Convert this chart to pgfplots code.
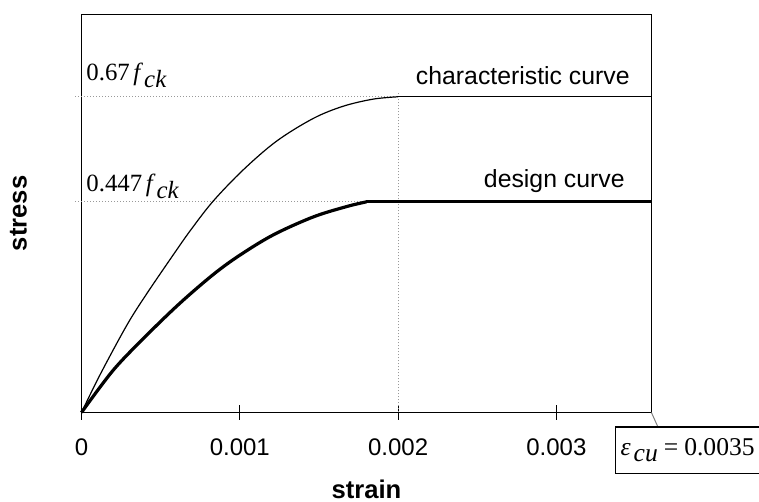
\documentclass[border=0pt]{standalone}
\usepackage{fontspec}
\setmainfont{Liberation Sans}
\newfontfamily\timesf{Liberation Serif}
\usepackage{pgfplots}
\pgfplotsset{compat=1.18}
\begin{document}
\begin{tikzpicture}
\begin{axis}[name=ax, at={(0,0)}, anchor=south west,
  scale only axis, width=284.95pt, height=199.1pt,
  xmin=0, xmax=0.0036, ymin=0, ymax=0.845,
  xtick={0,0.001,0.002,0.003}, xticklabels={0,0.001,0.002,0.003},
  scaled x ticks=false, ytick=\empty, xtick pos=bottom,
  tick align=center, major tick length=7.5pt,
  axis line style={line width=0.6pt},
  tick style={black, line width=0.6pt},
  xticklabel style={font=\fontsize{12}{14}\selectfont, anchor=north, inner sep=0pt, yshift=-9pt},
  xlabel={strain}, ylabel={stress},
  xlabel style={at={(axis description cs:0.5,-0.2172)}, anchor=base, inner sep=0pt, font=\fontsize{12.8}{15}\selectfont\bfseries},
  ylabel style={at={(axis description cs:-0.0962,0.5)}, anchor=base, inner sep=0pt, font=\fontsize{12.8}{15}\selectfont\bfseries},
  clip=false]
% reference dotted lines
\addplot[gray!80, densely dotted, line width=0.5pt] coordinates {(-0.00004,0.67) (0.002,0.67)};
\addplot[gray!80, densely dotted, line width=0.5pt] coordinates {(-0.00004,0.447) (0.002,0.447)};
\addplot[gray!80, densely dotted, line width=0.5pt] coordinates {(0.002,0) (0.002,0.68)};
% characteristic curve
\addplot[black, line width=0.6pt, smooth, tension=0.55] coordinates {
(0,0) (0.000117,0.080) (0.000286,0.185) (0.000412,0.252) (0.000601,0.345)
(0.000696,0.390) (0.000833,0.449) (0.001022,0.515) (0.001233,0.576)
(0.001464,0.624) (0.001654,0.650) (0.001843,0.665) (0.002,0.67)};
\addplot[black, line width=0.6pt] coordinates {(0.002,0.67) (0.0036,0.67)};
% design curve
\addplot[black, line width=1.6pt, smooth, tension=0.55] coordinates {
(0,0) (0.000201,0.090) (0.000412,0.164) (0.000622,0.232) (0.000833,0.293)
(0.001001,0.334) (0.001212,0.377) (0.001464,0.415) (0.001675,0.437)
(0.0018,0.447)};
\addplot[black, line width=1.6pt] coordinates {(0.0018,0.447) (0.0036,0.447)};
\node[anchor=base west, inner sep=0pt, font=\timesf\fontsize{12.4}{14}\selectfont, xshift=2.3pt, yshift=8.35pt] at (axis cs:0,0.67) {0.67\kern1.8pt\textit{f}\kern0.5pt\raisebox{-3.6pt}{\textit{ck}}};
\node[anchor=base west, inner sep=0pt, font=\timesf\fontsize{12.4}{14}\selectfont, xshift=2.3pt, yshift=5.3pt] at (axis cs:0,0.447) {0.447\kern1.8pt\textit{f}\kern0.5pt\raisebox{-3.6pt}{\textit{ck}}};
\node[anchor=base east, inner sep=0pt, font=\fontsize{12.4}{14}\selectfont, xshift=-10.7pt, yshift=6.3pt] at (axis cs:0.0036,0.67) {characteristic curve};
\node[anchor=base east, inner sep=0pt, font=\fontsize{12.4}{14}\selectfont, xshift=-13.2pt, yshift=7pt] at (axis cs:0.0036,0.447) {design curve};
\draw[gray, line width=0.5pt] (axis cs:0.0036,0) -- ++(0,-7pt);
\node[draw, line width=0.6pt, anchor=north west, inner xsep=2.5pt, minimum height=23pt, font=\timesf\fontsize{12.8}{15}\selectfont, xshift=-18.2pt, yshift=-7pt] at (axis cs:0.0036,0) {\textit{ε}\kern1.5pt\raisebox{-3pt}{\textit{cu}}\kern3pt=\kern3pt0.0035\hspace{10pt}};
\end{axis}
\pgfresetboundingbox
\path[use as bounding box] ([xshift=-40.75pt,yshift=-44.75pt]ax.south west) rectangle ([xshift=338.75pt,yshift=206.25pt]ax.south west);
\end{tikzpicture}
\end{document}
